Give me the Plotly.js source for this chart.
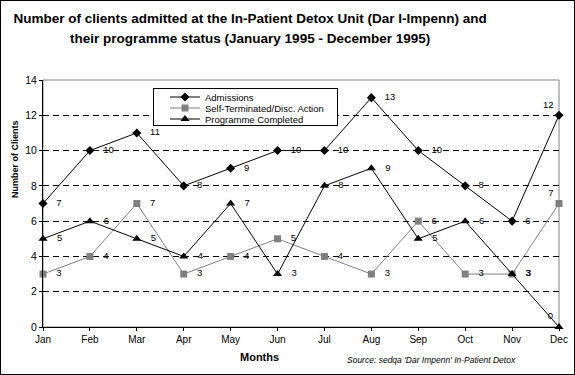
<!DOCTYPE html>
<html>
<head>
<meta charset="utf-8">
<script src="https://cdn.plot.ly/plotly-3.0.1.min.js"></script>
<style>
  html, body { margin: 0; padding: 0; background: #fff; }
  #frame { position: absolute; left: 0; top: 0; width: 573px; height: 373px; border: 1px solid #000; pointer-events: none; }
  #chart { position: absolute; left: 0; top: 0; width: 575px; height: 375px; }
</style>
</head>
<body>
<div id="chart"></div>
<div id="frame"></div>
<script>
const months = ["Jan","Feb","Mar","Apr","May","Jun","Jul","Aug","Sep","Oct","Nov","Dec"];
const admissions = [7, 10, 11, 8, 9, 10, 10, 13, 10, 8, 6, 12];
const selfTerminated = [3, 4, 7, 3, 4, 5, 4, 3, 6, 3, 3, 7];
const programmeCompleted = [5, 6, 5, 4, 7, 3, 8, 9, 5, 6, 3, 0];
const yTicks = [0, 2, 4, 6, 8, 10, 12, 14];

const FONT = "Arial, 'Liberation Sans', sans-serif";
const PAD = "\u00a0\u00a0\u00a0";
const labelPos = months.map((m, i) => i === months.length - 1 ? "top left" : "middle right");

function series(name, y, color, symbol, size) {
  return {
    x: months, y: y, name: name, type: "scatter",
    mode: "lines+markers+text",
    text: y.map((v, i) => i === months.length - 1 ? String(v) : PAD + v),
    textposition: labelPos,
    textfont: {family: FONT, size: 9.5, color: "#000"},
    line: {color: color, width: 1},
    marker: {color: color, symbol: symbol, size: size},
    cliponaxis: false
  };
}

const data = [
  series("Admissions", admissions, "#000000", "diamond", 7),
  series("Self-Terminated/Disc. Action", selfTerminated, "#808080", "square", 7),
  series("Programme Completed", programmeCompleted, "#000000", "triangle-up", 8)
];

const layout = {
  width: 575, height: 375,
  margin: {l: 43, r: 16, t: 80, b: 48},
  paper_bgcolor: "#fff", plot_bgcolor: "#fff",
  font: {family: FONT, size: 10, color: "#000"},
  title: {
    text: "<b><span style='font-size:13.5px'>Number of clients admitted at the In-Patient Detox Unit (Dar I-Impenn) and</span><br><span style='font-size:13.5px'>their programme status (January 1995 - December 1995)</span></b>",
    font: {family: FONT, size: 16, color: "#000"},
    x: 0.435, xanchor: "center", xref: "container",
    y: 0.94, yanchor: "top", yref: "container"
  },
  xaxis: {
    type: "category", range: [0, 11],
    showline: true, linecolor: "#000", linewidth: 1,
    ticks: "outside", ticklen: 3, tickcolor: "#000",
    showgrid: false, zeroline: false,
    tickfont: {family: FONT, size: 10},
    fixedrange: true
  },
  yaxis: {
    range: [0, 14], tickvals: yTicks,
    showline: true, linecolor: "#000", linewidth: 1,
    ticks: "outside", ticklen: 3, tickcolor: "#000",
    showgrid: true, gridcolor: "#000", gridwidth: 1, griddash: "6px,4px",
    zeroline: false,
    tickfont: {family: FONT, size: 10.5},
    fixedrange: true
  },
  xaxis2: {
    overlaying: "x", range: [0, 11], dtick: 1, tick0: 0,
    ticks: "inside", ticklen: 3, tickcolor: "#000",
    showticklabels: false, showgrid: false, zeroline: false, showline: false,
    fixedrange: true
  },
  yaxis2: {
    overlaying: "y", range: [0, 14], dtick: 2, tick0: 0,
    ticks: "inside", ticklen: 3, tickcolor: "#000",
    showticklabels: false, showgrid: false, zeroline: false, showline: false,
    fixedrange: true
  },
  shapes: [
    {type: "rect", xref: "paper", yref: "paper", x0: 0, x1: 1, y0: 0, y1: 1,
     line: {color: "#808080", width: 1}, fillcolor: "rgba(0,0,0,0)", layer: "between"}
  ],
  annotations: [
    {text: "<b>Number of Clients</b>", xref: "paper", yref: "paper",
     x: (15 - 43) / 516, y: (327 - 159) / 247, xanchor: "center", yanchor: "middle",
     textangle: -90, showarrow: false, font: {family: FONT, size: 9}},
    {text: "<b>Months</b>", xref: "paper", yref: "paper", x: (259 - 43) / 516, y: -0.12,
     xanchor: "center", yanchor: "middle", showarrow: false, font: {family: FONT, size: 11}},
    {text: "<i>Source: sedqa 'Dar Impenn' In-Patient Detox</i>", xref: "paper", yref: "paper",
     x: (345 - 43) / 516, y: -0.135, xanchor: "left", yanchor: "middle", showarrow: false,
     font: {family: FONT, size: 8.5}}
  ],
  showlegend: true,
  legend: {
    x: (153 - 43) / 516, y: (327 - 88) / 247, xanchor: "left", yanchor: "top",
    bordercolor: "#000", borderwidth: 1, bgcolor: "#fff",
    font: {family: FONT, size: 9.5, color: "#000"}
  }
};

Plotly.newPlot("chart", data, layout, {staticPlot: true}).then(function (gd) {
  // compact the legend rows to the reference's tight spacing
  const leg = gd.querySelector(".legend");
  if (!leg) return;
  const bg = leg.querySelector("rect.bg");
  if (bg) { bg.setAttribute("width", 184); bg.setAttribute("height", 37); }
  const box = leg.querySelector(".scrollbox");
  if (box) box.removeAttribute("clip-path");
  leg.removeAttribute("clip-path");
  leg.querySelectorAll(".traces").forEach(function (t, i) {
    t.setAttribute("transform", "translate(12," + (9 + 11 * i) + ")");
  });
});
</script>
</body>
</html>
